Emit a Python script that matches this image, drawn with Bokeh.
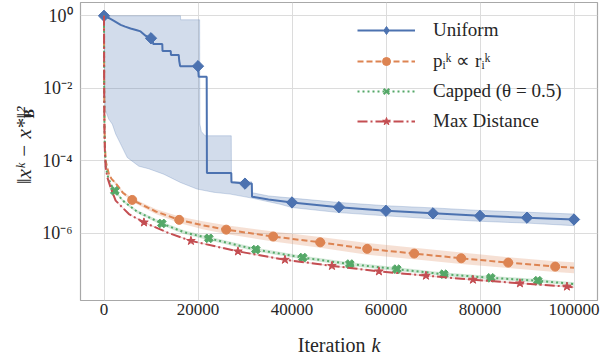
import numpy as np
from bokeh.plotting import figure
from bokeh.models import (Range1d, FixedTicker, Legend, LegendItem, Label,
                          BasicTickFormatter)
from bokeh.embed import file_html
from bokeh.resources import INLINE

# ---- data: iteration k and log10 of ||x^k - x*||_B^2 ----------------------
# Uniform sampling (mean run) and its min/max envelope
uniform_k = [0, 1000, 2120, 3540, 4500, 5660, 7000, 7780, 8840, 10000, 10400,
             10450, 12400, 12450, 14200, 14250, 15900, 16000, 16200, 20000,
             20150, 21850, 21900, 27080, 27120, 30000, 31450, 31500, 35000,
             40000, 50000, 60000, 70000, 80000, 90000, 100000]
uniform_log10 = [0.0, -0.06, -0.14, -0.25, -0.30, -0.35, -0.40, -0.43, -0.55,
                 -0.62, -0.64, -0.78, -0.78, -0.97, -0.97, -1.08, -1.08, -1.24,
                 -1.39, -1.39, -1.68, -1.68, -4.34, -4.34, -4.59, -4.63, -4.63,
                 -4.99, -5.07, -5.15, -5.28, -5.38, -5.45, -5.52, -5.57, -5.62]
uniform_marker_k = [0, 10000, 20000, 30000, 40000, 50000, 60000, 70000,
                    80000, 90000, 100000]

uniform_hi_k = [0, 16270, 16300, 20350, 20400, 20700, 21500, 27080, 27120,
                31400, 31500, 35000, 40000, 50000, 60000, 70000, 80000, 90000,
                100000]
uniform_hi_log10 = [0.0, 0.0, -0.11, -0.11, -2.99, -3.19, -3.31, -3.31, -4.58,
                    -4.58, -4.88, -4.97, -5.03, -5.15, -5.24, -5.30, -5.37,
                    -5.42, -5.47]
uniform_lo_k = [0, 100, 300, 1000, 1770, 2480, 3540, 4950, 7420, 9500, 12700,
                16270, 19800, 23330, 26870, 31470, 37500, 40000, 50000, 60000,
                70000, 80000, 90000, 100000]
uniform_lo_log10 = [0.0, -2.0, -2.6, -2.85, -2.99, -3.26, -3.54, -3.91, -4.15,
                    -4.22, -4.37, -4.60, -4.78, -4.87, -4.92, -5.03, -5.20,
                    -5.29, -5.43, -5.52, -5.60, -5.67, -5.72, -5.79]

# Residual-proportional sampling p_i^k ∝ r_i^k (spread = half band width, decades)
prop_k = [0, 40, 100, 200, 360, 700, 1060, 1600, 2480, 4000, 6000, 11000,
          16000, 21000, 26000, 36000, 46000, 56000, 66000, 76000, 86000, 96000,
          100000]
prop_log10 = [0.0, -2.0, -3.0, -3.6, -4.0, -4.2, -4.37, -4.50, -4.62, -4.88,
              -5.08, -5.40, -5.63, -5.78, -5.90, -6.09, -6.25, -6.43, -6.56,
              -6.69, -6.81, -6.92, -6.95]
prop_spread = [0.0, 0.01, 0.02, 0.02, 0.03, 0.03, 0.03, 0.03, 0.04, 0.04,
               0.05, 0.07, 0.09, 0.11, 0.12, 0.14, 0.15, 0.16, 0.16, 0.16,
               0.15, 0.15, 0.15]
prop_marker_k = [6000, 16000, 26000, 36000, 46000, 56000, 66000, 76000,
                 86000, 96000]

# Capped sampling (theta = 0.5)
capped_k = [0, 40, 100, 200, 360, 700, 1060, 1600, 2300, 4000, 7000, 12300,
            17000, 22300, 32300, 42300, 52300, 62300, 72300, 82300, 92300,
            100000]
capped_log10 = [0.0, -2.1, -3.1, -3.7, -4.12, -4.38, -4.52, -4.68, -4.83,
                -5.10, -5.40, -5.73, -5.97, -6.14, -6.45, -6.67, -6.85, -6.99,
                -7.13, -7.23, -7.31, -7.40]
capped_spread = [0.0, 0.01, 0.02, 0.02, 0.02, 0.03, 0.03, 0.03, 0.03, 0.04,
                 0.04, 0.05, 0.05, 0.05, 0.05, 0.05, 0.05, 0.05, 0.05, 0.05,
                 0.05, 0.05]
capped_marker_k = [2300, 12300, 22300, 32300, 42300, 52300, 62300, 72300,
                   82300, 92300]

# Max-distance sampling
maxdist_k = [0, 40, 100, 200, 360, 700, 1410, 2480, 5300, 8500, 13500, 18500,
             28500, 38500, 48500, 58500, 68500, 78500, 88500, 98500, 100000]
maxdist_log10 = [0.0, -2.2, -3.2, -3.8, -4.18, -4.45, -4.74, -5.10, -5.47,
                 -5.70, -5.98, -6.21, -6.50, -6.73, -6.90, -7.05, -7.17, -7.28,
                 -7.38, -7.47, -7.49]
maxdist_spread = [0.0, 0.01, 0.01, 0.01, 0.01, 0.01, 0.015, 0.015, 0.015,
                  0.015, 0.015, 0.02, 0.02, 0.02, 0.02, 0.02, 0.02, 0.02, 0.02,
                  0.02, 0.02]
maxdist_marker_k = [8500, 18500, 28500, 38500, 48500, 58500, 68500, 78500,
                    88500, 98500]

x_ticks = [0, 20000, 40000, 60000, 80000, 100000]
y_ticks = [1, 1e-2, 1e-4, 1e-6]
y_tick_labels = ["10⁰", "10⁻²", "10⁻⁴", "10⁻⁶"]

BLUE, ORANGE, GREEN, RED = "#4C72B0", "#DD8452", "#55A868", "#C44E52"
SERIF = "Liberation Serif"
INK = "#262626"


def lin(v):
    return np.power(10.0, np.asarray(v, dtype=float))


def at(ks, k_arr, v_arr):
    table = dict(zip(k_arr, v_arr))
    return lin([table[k] for k in ks])


p = figure(width=600, height=354,
           x_range=Range1d(-5000, 105000),
           y_range=Range1d(10 ** -7.855, 10 ** 0.367),
           y_axis_type="log", output_backend="svg", toolbar_location=None,
           min_border_left=80, min_border_right=3, min_border_top=2,
           min_border_bottom=54)

p.background_fill_color = "white"
p.border_fill_color = "white"
p.outline_line_color = "#a8a8a8"
p.outline_line_width = 1.2

# axes
p.xaxis.ticker = FixedTicker(ticks=x_ticks)
p.xaxis.formatter = BasicTickFormatter(use_scientific=False)
p.yaxis.ticker = FixedTicker(ticks=y_ticks)
p.yaxis.major_label_overrides = dict(zip(y_ticks, y_tick_labels))
for ax in (p.xaxis, p.yaxis):
    ax.axis_line_color = None
    ax.major_tick_line_color = None
    ax.minor_tick_line_color = None
    ax.major_tick_out = 0
    ax.minor_tick_out = 0
    ax.major_label_text_font = SERIF
    ax.major_label_text_font_size = "17px"
    ax.major_label_text_color = INK
p.yaxis.major_label_text_font_size = "18px"
p.xaxis.major_label_standoff = 3
p.yaxis.major_label_standoff = 8
p.grid.grid_line_color = "#dcdcdc"
p.grid.grid_line_width = 1

# envelopes
p.patch(x=uniform_hi_k + uniform_lo_k[::-1],
        y=np.concatenate([lin(uniform_hi_log10), lin(uniform_lo_log10)[::-1]]),
        fill_color=BLUE, fill_alpha=0.25, line_color=BLUE, line_alpha=0.25,
        line_width=1)
for ks, vals, spread, col in ((prop_k, prop_log10, prop_spread, ORANGE),
                              (capped_k, capped_log10, capped_spread, GREEN),
                              (maxdist_k, maxdist_log10, maxdist_spread, RED)):
    v = np.asarray(vals)
    s = np.asarray(spread)
    p.varea(x=ks, y1=lin(v - s), y2=lin(v + s), fill_color=col,
            fill_alpha=0.25)

# mean curves and markers; the plain diamond / x layers sit under the rotated
# markers and serve as legend keys (legend keys are drawn unrotated)
uni_y = at(uniform_marker_k, uniform_k, uniform_log10)
cap_y = at(capped_marker_k, capped_k, capped_log10)

l_uni = p.line(uniform_k, lin(uniform_log10), line_color=BLUE, line_width=2)
key_uni = p.scatter(uniform_marker_k, uni_y, marker="diamond", size=10,
                    fill_color=BLUE, line_color=BLUE)
p.scatter(uniform_marker_k, uni_y, marker="square", angle=np.pi / 4, size=8,
          fill_color=BLUE, line_color=BLUE)

l_prop = p.line(prop_k, lin(prop_log10), line_color=ORANGE, line_width=2,
                line_dash="6 3")
m_prop = p.scatter(prop_marker_k, at(prop_marker_k, prop_k, prop_log10),
                   marker="circle", size=9, fill_color=ORANGE,
                   line_color=ORANGE)

l_cap = p.line(capped_k, lin(capped_log10), line_color=GREEN, line_width=2,
               line_dash="2 3")
key_cap = p.scatter(capped_marker_k, cap_y, marker="x", size=7,
                    line_color=GREEN, line_width=2)
p.scatter(capped_marker_k, cap_y, marker="plus", angle=np.pi / 4, size=9,
          fill_color=GREEN, line_color=GREEN)

l_max = p.line(maxdist_k, lin(maxdist_log10), line_color=RED, line_width=2,
               line_dash="10 3 2 3")
m_max = p.scatter(maxdist_marker_k, at(maxdist_marker_k, maxdist_k, maxdist_log10),
                  marker="star", size=9, fill_color=RED, line_color=RED)

legend = Legend(items=[
    LegendItem(label="Uniform", renderers=[l_uni, key_uni]),
    LegendItem(label="pᵢᵏ ∝ rᵢᵏ", renderers=[l_prop, m_prop]),
    LegendItem(label="Capped (θ = 0.5)", renderers=[l_cap, key_cap]),
    LegendItem(label="Max Distance", renderers=[l_max, m_max]),
], location=(277, 168), glyph_width=58, glyph_height=20, label_height=20,
    label_standoff=18, spacing=8, padding=0, margin=0,
    border_line_color=None, background_fill_alpha=0,
    label_text_font=SERIF, label_text_font_size="19px",
    label_text_color=INK)
p.add_layout(legend)

# axis titles, positioned in canvas pixels (spread over the side panels
# so that the frame keeps its size)
p.add_layout(Label(x=365, y=344, x_units="canvas", y_units="canvas",
                   text="Iteration", text_align="right",
                   text_baseline="alphabetic", text_font=SERIF,
                   text_font_size="20px", text_color=INK), "below")
p.add_layout(Label(x=371, y=344, x_units="canvas", y_units="canvas",
                   text="k", text_align="left", text_baseline="alphabetic",
                   text_font=SERIF, text_font_style="italic",
                   text_font_size="20px", text_color=INK), "left")

p.add_layout(Label(x=23.5, y=106, x_units="canvas", y_units="canvas",
                   text="‖xᵏ − x*‖²", angle=np.pi / 2, text_align="right",
                   text_baseline="alphabetic", text_font=SERIF,
                   text_font_style="italic", text_font_size="21px",
                   text_color=INK), "left")
p.add_layout(Label(x=29, y=118, x_units="canvas", y_units="canvas",
                   text="B", angle=np.pi / 2, text_align="left",
                   text_baseline="alphabetic", text_font=SERIF,
                   text_font_style="bold", text_font_size="14px",
                   text_color=INK), "below")

open("out.html", "w").write(file_html(p, INLINE))
